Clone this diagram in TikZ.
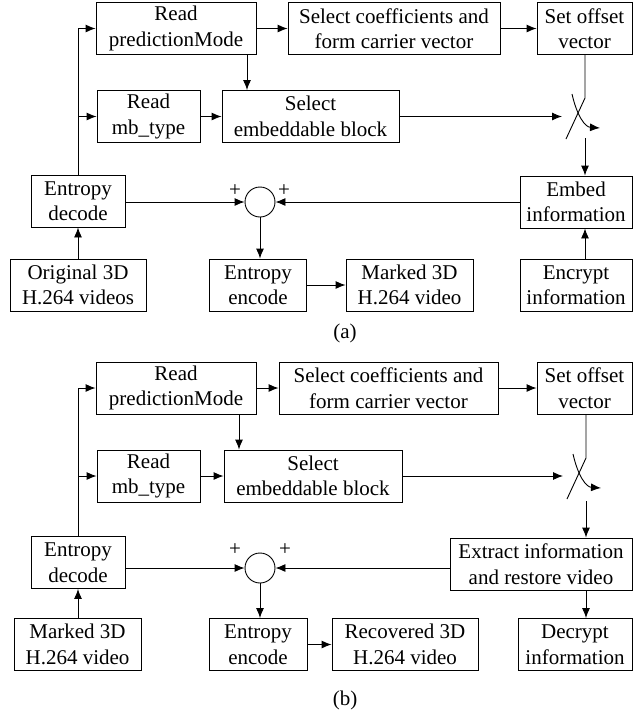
\documentclass[tikz,border=0pt]{standalone}
\usepackage{fontspec}
\setmainfont{Liberation Serif}
\usetikzlibrary{arrows.meta}
\begin{document}
\begin{tikzpicture}[x=1pt,y=-1pt,
  box/.style={draw, line width=0.9pt, align=center, inner sep=0pt,
    minimum height=52pt, font=\fontsize{21}{25.5}\selectfont},
  conn/.style={line width=0.9pt, -{Latex[length=10pt,width=8pt]}},
  plain/.style={line width=0.9pt},
  sumc/.style={draw, circle, line width=0.9pt, minimum size=30pt, inner sep=0pt},
  lbl/.style={font=\fontsize{21}{25.5}\selectfont, inner sep=0pt}]
\useasboundingbox (0,0) rectangle (633,713);

% ---------------- (a) ----------------
\node[box, minimum width=160pt] (pmA) at (176,28.5) {Read\\predictionMode};
\node[box, minimum width=212pt] (scA) at (394,28.5) {Select coefficients and\\form carrier vector};
\node[box, minimum width=95pt] (soA) at (584.5,28.5) {Set offset\\vector};
\node[box, minimum width=103pt] (mbA) at (148.5,116.5) {Read\\mb\_type};
\node[box, minimum width=177pt] (ebA) at (310.5,116.5) {Select\\embeddable block};
\node[box, minimum width=94pt] (edA) at (78,201) {Entropy\\decode};
\node[sumc] (sA) at (260,202) {};
\node[box, minimum width=112pt] (emA) at (576,202) {Embed\\information};
\node[box, minimum width=136pt] (orA) at (78,285) {Original 3D\\H.264 videos};
\node[box, minimum width=97pt] (eeA) at (258,285) {Entropy\\encode};
\node[box, minimum width=127pt] (mkA) at (409.5,285) {Marked 3D\\H.264 video};
\node[box, minimum width=112pt] (enA) at (576,285) {Encrypt\\information};
\node[lbl] (pA1) at (235,191) {+};
\node[lbl] (pA2) at (284,191) {+};
\node[lbl] (capA) at (345,333) {(a)};

\coordinate (jA1) at (78,28.5);
\coordinate (jA2) at (78,116.5);
\coordinate (swA0) at (585,98);
\coordinate (swA1) at (566,139);
\coordinate (swAin) at (562,116.5);
\coordinate (swAc0) at (572,94);
\coordinate (swAc1) at (600,128);
\coordinate (swAout) at (585,138);

\draw[plain] (edA.north) -- (jA1);
\draw[conn] (jA1) -- (pmA.west);
\draw[conn] (jA2) -- (mbA.west);
\draw[conn] (pmA) -- (scA);
\draw[conn] (scA) -- (soA);
\draw[conn] (mbA) -- (ebA);
\draw[conn] (pmA.south -| 247,0) -- (ebA.north -| 247,0);
\draw[conn] (ebA.east) -- (swAin);
\draw[plain] (soA.south -| swA0) -- (swA0) -- (swA1);
\draw[conn] (swAc0) .. controls (577,116) and (585,127) .. (swAc1);
\draw[conn] (swAout) -- (emA.north -| swAout);
\draw[conn] (enA.north -| swAout) -- (emA.south -| swAout);
\draw[conn] (orA) -- (edA);
\draw[conn] (edA.east |- sA) -- (sA.west);
\draw[conn] (emA.west |- sA) -- (sA.east);
\draw[conn] (sA) -- (eeA.north -| sA);
\draw[conn] (eeA) -- (mkA);

% ---------------- (b) ----------------
\node[box, minimum width=160pt] (pmB) at (176,388) {Read\\predictionMode};
\node[box, minimum width=219pt] (scB) at (388.5,388) {Select coefficients and\\form carrier vector};
\node[box, minimum width=95pt] (soB) at (584.5,388) {Set offset\\vector};
\node[box, minimum width=103pt] (mbB) at (148.5,476) {Read\\mb\_type};
\node[box, minimum width=178pt] (ebB) at (313,476) {Select\\embeddable block};
\node[box, minimum width=94pt] (edB) at (78,562.5) {Entropy\\decode};
\node[sumc] (sB) at (260,568) {};
\node[box, minimum width=182pt] (exB) at (541,564) {Extract information\\and restore video};
\node[box, minimum width=127pt] (mkB) at (77.5,644.5) {Marked 3D\\H.264 video};
\node[box, minimum width=98pt] (eeB) at (258,644.5) {Entropy\\encode};
\node[box, minimum width=146pt] (rcB) at (405,644.5) {Recovered 3D\\H.264 video};
\node[box, minimum width=114pt] (dcB) at (575,644.5) {Decrypt\\information};
\node[lbl] (pB1) at (235,550) {+};
\node[lbl] (pB2) at (285,550) {+};
\node[lbl] (capB) at (345,700) {(b)};

\coordinate (jB1) at (78,388);
\coordinate (jB2) at (78,476);
\coordinate (swB0) at (586,458);
\coordinate (swB1) at (567,499);
\coordinate (swBin) at (563,476);
\coordinate (swBc0) at (573,454);
\coordinate (swBc1) at (601,488);
\coordinate (swBout) at (586,501);

\draw[plain] (edB.north) -- (jB1);
\draw[conn] (jB1) -- (pmB.west);
\draw[conn] (jB2) -- (mbB.west);
\draw[conn] (pmB) -- (scB);
\draw[conn] (scB) -- (soB);
\draw[conn] (mbB) -- (ebB);
\draw[conn] (pmB.south -| 239,0) -- (ebB.north -| 239,0);
\draw[conn] (ebB.east) -- (swBin);
\draw[plain] (soB.south -| swB0) -- (swB0) -- (swB1);
\draw[conn] (swBc0) .. controls (578,476) and (586,487) .. (swBc1);
\draw[conn] (swBout) -- (exB.north -| swBout);
\draw[conn] (exB.south -| swBout) -- (dcB.north -| swBout);
\draw[conn] (mkB.north -| edB) -- (edB.south);
\draw[conn] (edB.east |- sB) -- (sB.west);
\draw[conn] (exB.west |- sB) -- (sB.east);
\draw[conn] (sB) -- (eeB.north -| sB);
\draw[conn] (eeB) -- (rcB);
\end{tikzpicture}
\end{document}
